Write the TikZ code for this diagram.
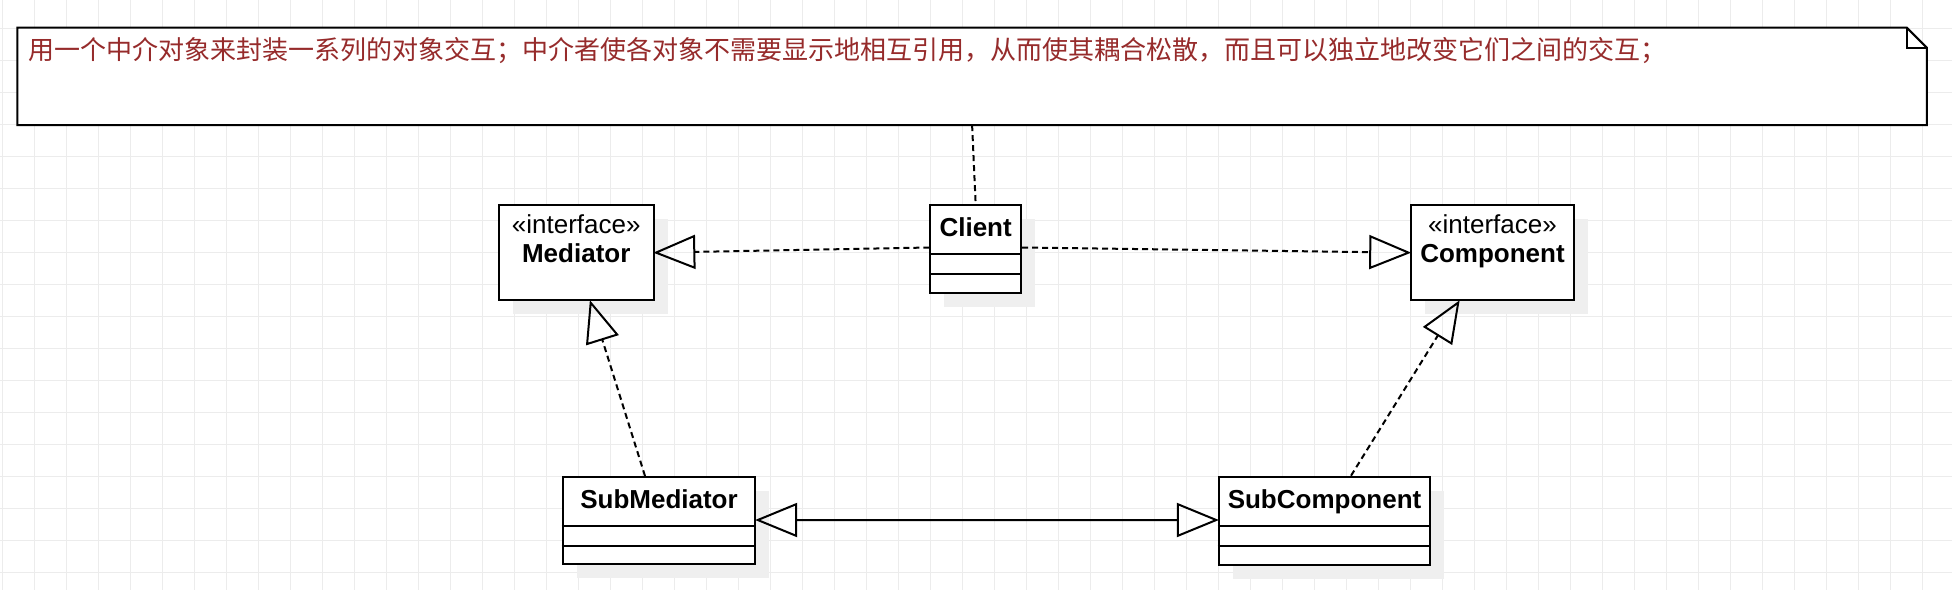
\documentclass[tikz,border=0pt]{standalone}
\usepackage{fontspec}
\setmainfont{Liberation Sans}
\newfontfamily\cjk{Noto Sans CJK SC}
\usetikzlibrary{arrows.meta,calc,shadows}
\definecolor{gridc}{HTML}{ECECEC}
\definecolor{shadowc}{HTML}{EFEFEF}
\definecolor{notetext}{HTML}{962B2B}
\tikzset{
  umlbox/.style={draw=black, fill=white, line width=1pt, inner sep=0pt, anchor=north west,
    general shadow={fill=shadowc, shadow xshift=7pt, shadow yshift=-7pt}},
  lbl/.style={anchor=base, inner sep=0pt, font=\fontsize{13pt}{15pt}\selectfont},
  blbl/.style={lbl, font=\fontsize{13pt}{15pt}\selectfont\bfseries},
  conn/.style={line width=1pt},
  dashconn/.style={line width=1pt, dash pattern=on 3pt off 2pt},
  hollow/.style={-{Triangle[open, length=21pt, width=17pt, line width=1pt]}, shorten >=-0.6pt},
  hollowboth/.style={{Triangle[open, length=21pt, width=17pt, line width=1pt]}-{Triangle[open, length=21pt, width=17pt, line width=1pt]}, shorten >=-0.6pt, shorten <=-0.6pt},
  divider/.style={line width=1pt}
}
\begin{document}
\begin{tikzpicture}[x=0.5pt, y=-0.5pt]
  % background and grid
  \fill[white] (0,0) rectangle (1952,590);
  \useasboundingbox (0,0) rectangle (1952,590);
  \foreach \i in {0,...,61} {
    \draw[gridc, line width=0.5pt] ({2.5+32*\i},0) -- ({2.5+32*\i},590);
  }
  \foreach \j in {0,...,18} {
    \draw[gridc, line width=0.5pt] (0,{-4+32*\j}) -- (1952,{-4+32*\j});
  }

  % note
  \node[draw=none, inner sep=0pt, anchor=north west, minimum width=954.3pt, minimum height=48.3pt] (note) at (17.4,27.7) {};
  \draw[line width=1pt, fill=white] (note.north west) -- ($(note.north east)+(-20,0)$) -- ($(note.north east)+(0,20)$) -- (note.south east) -- (note.south west) -- cycle;
  \draw[line width=1pt] ($(note.north east)+(-20,0)$) -- ($(note.north east)+(-20,20)$) -- ($(note.north east)+(0,20)$);
  \node[anchor=base west, inner sep=0pt, text=notetext, font=\cjk\fontsize{13pt}{15pt}\selectfont] (notetxt) at (28,59.5) {用一个中介对象来封装一系列的对象交互；中介者使各对象不需要显示地相互引用，从而使其耦合松散，而且可以独立地改变它们之间的交互；};

  % classes
  \node[umlbox, minimum width=77.25pt, minimum height=47.65pt] (med) at (498,204) {};
  \node[lbl] (medst) at ($(med.north)+(0,29.3)$) {«interface»};
  \node[blbl] (medname) at ($(med.north)+(0,58.7)$) {Mediator};

  \node[umlbox, minimum width=45.35pt, minimum height=43.85pt] (client) at (929.3,204) {};
  \node[blbl] (clientname) at ($(client.north)+(0,32.7)$) {Client};
  \draw[divider] ($(client.north west)+(0,50)$) -- ($(client.north east)+(0,50)$);
  \draw[divider] ($(client.north west)+(0,70.3)$) -- ($(client.north east)+(0,70.3)$);

  \node[umlbox, minimum width=81.5pt, minimum height=47.65pt] (comp) at (1410,204) {};
  \node[lbl] (compst) at ($(comp.north)+(0,29.3)$) {«interface»};
  \node[blbl] (compname) at ($(comp.north)+(0,58.7)$) {Component};

  \node[umlbox, minimum width=96.3pt, minimum height=43.65pt] (submed) at (561.7,476) {};
  \node[blbl] (submedname) at ($(submed.north)+(0,32.3)$) {SubMediator};
  \draw[divider] ($(submed.north west)+(0,50)$) -- ($(submed.north east)+(0,50)$);
  \draw[divider] ($(submed.north west)+(0,70)$) -- ($(submed.north east)+(0,70)$);

  \node[umlbox, minimum width=105.8pt, minimum height=44.15pt] (subcomp) at (1217.7,475.7) {};
  \node[blbl] (subcompname) at ($(subcomp.north)+(0,32.3)$) {SubComponent};
  \draw[divider] ($(subcomp.north west)+(0,50.3)$) -- ($(subcomp.north east)+(0,50.3)$);
  \draw[divider] ($(subcomp.north west)+(0,70.3)$) -- ($(subcomp.north east)+(0,70.3)$);

  % connectors
  \draw[dashconn] (note.south) -- (client.north);
  \draw[dashconn, hollow] ($(client.north west)+(0,43.5)$) -- (med.east);
  \draw[dashconn, hollow] ($(client.north east)+(0,43.5)$) -- (comp.west);
  \draw[dashconn, hollow] ($(submed.north)+(-14,0)$) -- ($(med.south)+(14,0)$);
  \draw[dashconn, hollow] ($(subcomp.north)+(26.5,0)$) -- ($(comp.south)+(-33.5,0)$);
  \draw[conn, hollowboth] ($(submed.north east)+(0,44)$) -- ($(subcomp.north west)+(0,44.3)$);
\end{tikzpicture}
\end{document}
